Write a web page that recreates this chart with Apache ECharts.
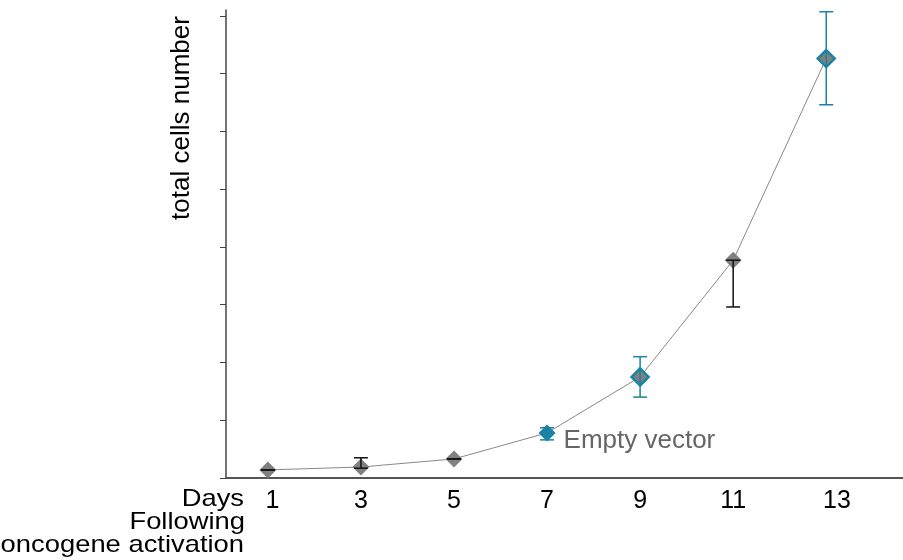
<!DOCTYPE html>
<html>
<head>
<meta charset="utf-8">
<script src="https://cdn.jsdelivr.net/npm/echarts@6/dist/echarts.min.js"></script>
<style>
  html, body { margin: 0; padding: 0; background: #fff; }
  #chart { width: 903px; height: 560px; }
</style>
</head>
<body>
<div id="chart"></div>
<script>
  // days after oncogene activation
  const days = [1, 3, 5, 7, 9, 11, 13]
  // total cells (arbitrary units)
  const cells = [0.14, 0.19, 0.33, 0.78, 1.75, 3.77, 7.26]
  const errLow = [0.14, 0.17, 0.33, 0.66, 1.40, 2.96, 6.46]
  const errHigh = [0.14, 0.35, 0.33, 0.87, 2.10, 3.77, 8.07]
  const tealDays = [9, 13]
  const filledDays = [7]
  // where the day labels sit under the axis (the last one is drawn a bit right)
  const xTicks = [1.1, 3, 5, 7, 9, 11, 13.23]
  const yTicks = [0, 1, 2, 3, 4, 5, 6, 7, 8]

  const teal = '#1a83a3'
  const grey = '#808080'
  const font = 'Liberation Sans'

  const myChart = echarts.init(document.getElementById('chart'))

  const pointData = days.map((d, i) => {
    let style = { color: grey, borderWidth: 0 }
    if (tealDays.includes(d)) style = { color: grey, borderColor: teal, borderWidth: 2.5 }
    if (filledDays.includes(d)) style = { color: teal, borderWidth: 0 }
    const item = { value: [d, cells[i]], itemStyle: style }
    if (d === 7) {
      item.label = {
        show: true, position: 'right', distance: 8,
        formatter: 'Empty vector', color: '#666', fontSize: 26,
        fontFamily: font, offset: [0, 8]
      }
    }
    return item
  })

  const errData = days.map((d, i) => ({
    value: [d, errLow[i], errHigh[i]],
    itemStyle: { color: (tealDays.includes(d) || filledDays.includes(d)) ? teal : '#111' }
  }))

  const leftText = (text, x, y) => ({
    type: 'text', x: x, y: y, scaleX: 1.14,
    style: { text: text, fill: '#000', fontSize: 24, fontFamily: font, align: 'right', verticalAlign: 'middle' }
  })

  myChart.setOption({
    animation: false,
    grid: { left: 226, right: 0, top: 10, bottom: 82 },
    xAxis: {
      type: 'value',
      min: 0.1,
      max: 14.65,
      splitLine: { show: false },
      axisLine: { lineStyle: { color: '#555', width: 2 } },
      axisTick: { show: false },
      axisLabel: {
        customValues: xTicks,
        formatter: v => String(Math.round(v)),
        color: '#000', fontSize: 25, fontFamily: font, margin: 11
      }
    },
    yAxis: {
      type: 'value',
      min: 0,
      max: 8.1,
      splitLine: { show: false },
      axisLine: { show: true, lineStyle: { color: '#444', width: 1.5 } },
      axisTick: { show: true, length: 6, customValues: yTicks, lineStyle: { color: '#444' } },
      axisLabel: { show: false }
    },
    graphic: [
      {
        type: 'text', x: 182, y: 118, rotation: Math.PI / 2,
        style: {
          text: 'total cells number', fill: '#000', fontSize: 26,
          fontFamily: font, align: 'center', verticalAlign: 'middle'
        }
      },
      leftText('Days', 244, 499),
      leftText('Following', 245, 522),
      leftText('oncogene activation', 244, 545)
    ],
    series: [
      {
        type: 'line',
        data: pointData,
        symbol: 'diamond',
        symbolSize: 17,
        lineStyle: { color: '#888', width: 1 },
        z: 3
      },
      {
        type: 'custom',
        data: errData,
        z: 4,
        renderItem(params, api) {
          const x = api.value(0)
          const top = api.coord([x, api.value(2)])
          const bot = api.coord([x, api.value(1)])
          const c = api.visual('color')
          const w = 7
          const st = { stroke: c, lineWidth: 1.5 }
          return {
            type: 'group',
            children: [
              { type: 'line', shape: { x1: top[0], y1: top[1], x2: bot[0], y2: bot[1] }, style: st },
              { type: 'line', shape: { x1: top[0] - w, y1: top[1], x2: top[0] + w, y2: top[1] }, style: st },
              { type: 'line', shape: { x1: bot[0] - w, y1: bot[1], x2: bot[0] + w, y2: bot[1] }, style: st }
            ]
          }
        }
      }
    ]
  })
</script>
</body>
</html>
